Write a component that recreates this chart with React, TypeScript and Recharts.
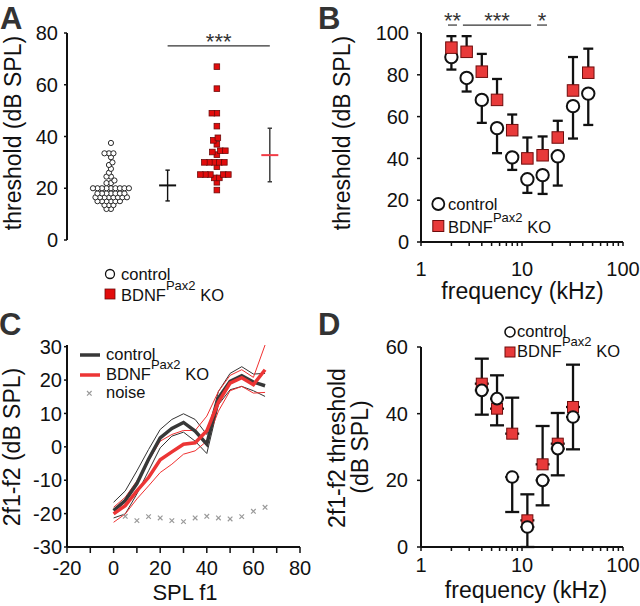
import React from "react";
import {
  ScatterChart, ComposedChart, Scatter, Line, XAxis, YAxis, ErrorBar, ReferenceLine,
} from "recharts";

const FONT = "'Liberation Sans', Arial, Helvetica, sans-serif";
const INK = "#111";
const LABEL_INK = "#333";
const RED = "#e83a3a";
const RED_A = "#e20c0c";
const RED_DARK = "#6e0c0c";

// ---------- A: individual ABR thresholds (dB SPL)
const A_CONTROL = [
  37.5, 33.5, 33.5, 33.5, 32, 30, 29, 27.5, 26, 24.5, 24.5, 23, 22, 22,
  20, 20, 20, 20, 20, 20, 20, 20, 20,
  18, 18, 18, 18, 18, 18, 18,
  16.5, 16.5, 16.5, 16.5, 16.5, 16.5, 16.5, 16.5,
  15, 15, 15, 15, 15, 15, 13.5, 13.5, 13.5, 12, 12,
];
const A_KO = [
  67, 58.5, 49, 49, 44, 39.5, 38.5, 37, 34.5, 34.5, 34, 33,
  30, 30, 30, 30, 30, 28.3, 25.3, 25.3, 25.3, 25.3, 25.3, 24, 24, 22.3, 19.3,
];
// mean, lower, upper
const A_CONTROL_STATS = [21.1, 15.1, 27];
const A_KO_STATS = [32.8, 22.5, 43.2];

// ---------- B: audiogram
const B_FREQ = [2, 2.83, 4, 5.66, 8, 11.3, 16, 22.6, 32, 45.3];
const B_CONTROL = [88.5, 78.5, 68, 54.5, 40.5, 30, 32, 41, 65, 71];
const B_CONTROL_LOW = [82.5, 72, 57, 42.5, 34.5, 23.5, 23, 27, 49.5, 56];
const B_KO = [93, 91, 81.5, 68, 53.5, 40, 41.5, 50, 72.5, 81];
const B_KO_HIGH = [98.5, 98.5, 90, 78, 61, 50, 50.5, 58, 88.5, 92.5];
const B_SIG = [
  { from: 1.85, to: 2.27, label: "**" },
  { from: 2.6, to: 12.3, label: "***" },
  { from: 14.1, to: 17.7, label: "*" },
];

// ---------- C: DPOAE growth
const C_SPL = [0, 5, 10, 15, 20, 25, 30, 35, 40, 45, 50, 55, 60, 65];
const C_CONTROL = [-19.1, -16.1, -11, -3.7, 2.7, 5.5, 7.3, 4.7, 0.8, 14.6, 19.6, 21.3, 19.4, 18.3];
const C_CONTROL_HI = [-16.6, -13.2, -7.2, -0.8, 5.2, 8.2, 9.9, 8.2, 3.7, 16.6, 22, 24, 21.8, 22];
const C_CONTROL_LO = [-21.3, -20.1, -14.1, -7.2, -0.3, 3.2, 4.4, 1.7, -2, 12.6, 17.1, 18.1, 16.8, 15.1];
const C_KO = [-20.1, -17.6, -13.2, -9.2, -3.9, -1.5, 0.8, 1.2, 4.8, 13.4, 19.1, 20.7, 18.6, 23.1];
const C_KO_HI = [-18.1, -15.1, -10.2, -4.2, 1.7, 3.7, 4.9, 4.9, 9.2, 16.6, 21.4, 23.1, 20.8, 30.5];
const C_KO_LO = [-22.6, -20.1, -15.6, -11.7, -7.7, -5.2, -2.2, -1.2, 1.7, 10.7, 16.8, 18.1, 16.1, 16.3];
const C_NOISE_SPL = [5, 10, 15, 20, 25, 30, 35, 40, 45, 50, 55, 60, 65];
const C_NOISE = [-20.8, -22.1, -20.9, -21.3, -22.1, -22.4, -21.3, -20.8, -21.3, -21.6, -20.9, -19.3, -18.1];

// ---------- D: DPOAE thresholds
const D_FREQ = [4, 5.66, 8, 11.3, 16, 22.6, 32];
const D_CONTROL = [47, 44.5, 21, 6, 20, 29.5, 39];
const D_CONTROL_LOW = [39.7, 36.5, 10.5, 0, 12.5, 21.5, 29.3];
const D_KO = [49, 41.5, 34, 8, 24.8, 31, 42];
const D_KO_HIGH = [56.5, 51.5, 44.8, 15.8, 36.3, 40.2, 54.7];

const LOG_TICKS = [1, 2, 3, 4, 5, 6, 7, 8, 9, 10, 20, 30, 40, 50, 60, 70, 80, 90, 100];
const logLabel = (v: number) => (v === 1 || v === 10 || v === 100 ? String(v) : "");

const AXIS = { stroke: INK, strokeWidth: 2 };
const TICK_LINE = { stroke: INK, strokeWidth: 1.5 };
const TICK = { fontSize: 20, fill: INK, fontFamily: FONT };

// simple beeswarm: spread equal-ish values sideways (pixel units -> data units)
function swarm(values: number[], center: number, pxPerX: number, pxPerY: number, minDist: number) {
  const placed: { v: number; dx: number }[] = [];
  return [...values].sort((a, b) => a - b).map((v) => {
    let dx = 0;
    for (let k = 0; k < 400; k++) {
      const cand = (k % 2 === 1 ? -1 : 1) * Math.ceil(k / 2) * 0.5;
      if (placed.every((p) => Math.hypot(p.dx - cand, (p.v - v) * pxPerY) >= minDist)) { dx = cand; break; }
    }
    placed.push({ v, dx });
    return { x: center + dx / pxPerX, y: v };
  });
}

const circleShape = (r: number, sw: number) => (p: any) => (
  <circle cx={p.cx} cy={p.cy} r={r} fill="#fff" stroke={INK} strokeWidth={sw} />
);
const squareShape = (s: number, fill: string, sw: number) => (p: any) => (
  <rect x={p.cx - s / 2} y={p.cy - s / 2} width={s} height={s} fill={fill} stroke={RED_DARK} strokeWidth={sw} />
);
const meanShape = (color: string) => (p: any) => (
  <line x1={p.cx - 8.5} x2={p.cx + 8.5} y1={p.cy} y2={p.cy} stroke={color} strokeWidth={2} />
);
const noShape = () => <g />;
const crossShape = (p: any) => (
  <path d={`M${p.cx - 2.3},${p.cy - 2.3}L${p.cx + 2.3},${p.cy + 2.3}M${p.cx - 2.3},${p.cy + 2.3}L${p.cx + 2.3},${p.cy - 2.3}`}
    stroke="#9a9a9a" strokeWidth={1.2} />
);

const starLabel = (value: string) => ({
  value, position: "top" as const, offset: -3, fontSize: 22, fill: LABEL_INK, fontFamily: FONT,
});

function PanelA() {
  const ctrl = swarm(A_CONTROL, 1, 53, 2.5875, 4.2);
  const ko = swarm(A_KO, 3, 53, 2.5875, 5);
  const [cm, cl, ch] = A_CONTROL_STATS;
  const [km, kl, kh] = A_KO_STATS;
  const ctrlSum = [{ x: 2.07, y: cm, err: [cm - cl, ch - cm] }];
  const koSum = [{ x: 4, y: km, err: [km - kl, kh - km] }];
  return (
    <ScatterChart width={320} height={260} margin={{ top: 33, right: 20, bottom: 20, left: 0 }}>
      <XAxis type="number" dataKey="x" domain={[0.17, 4.57]} height={0} tick={false} tickLine={false} axisLine={AXIS} />
      <YAxis type="number" dataKey="y" domain={[0, 80]} ticks={[0, 20, 40, 60, 80]} width={67}
        tick={TICK} tickSize={3} tickMargin={6} tickLine={TICK_LINE} axisLine={AXIS} />
      <ReferenceLine segment={[{ x: 2.07, y: 75 }, { x: 4, y: 75 }]} stroke={LABEL_INK} strokeWidth={1.2}
        ifOverflow="visible" label={starLabel("***")} />
      <Scatter data={ctrl} isAnimationActive={false} shape={circleShape(2.6, 0.9)} />
      <Scatter data={ko} isAnimationActive={false} shape={squareShape(5.6, RED_A, 0.8)} />
      <Scatter data={ctrlSum} isAnimationActive={false} shape={meanShape(INK)}>
        <ErrorBar dataKey="err" direction="y" width={2.2} stroke={INK} strokeWidth={1.4} />
      </Scatter>
      <Scatter data={koSum} isAnimationActive={false} shape={meanShape("#f23b46")}>
        <ErrorBar dataKey="err" direction="y" width={2.2} stroke="#333" strokeWidth={1.4} />
      </Scatter>
    </ScatterChart>
  );
}

function PanelB() {
  const ctrlErr = B_FREQ.map((f, i) => ({ f, y: B_CONTROL[i], err: [B_CONTROL[i] - B_CONTROL_LOW[i], 0] }));
  const koErr = B_FREQ.map((f, i) => ({ f, y: B_KO[i], err: [0, B_KO_HIGH[i] - B_KO[i]] }));
  const ctrl = B_FREQ.map((f, i) => ({ f, y: B_CONTROL[i] }));
  const ko = B_FREQ.map((f, i) => ({ f, y: B_KO[i] }));
  return (
    <ScatterChart width={320} height={300} margin={{ top: 33, right: 17, bottom: 0, left: 0 }}>
      <XAxis type="number" dataKey="f" scale="log" domain={[1, 100]} ticks={LOG_TICKS} interval={0}
        tickFormatter={logLabel} height={58} tick={TICK} tickSize={4} tickMargin={16} tickLine={TICK_LINE} axisLine={AXIS} />
      <YAxis type="number" dataKey="y" domain={[0, 100]} ticks={[0, 20, 40, 60, 80, 100]} width={101}
        tick={TICK} tickSize={4} tickMargin={8} tickLine={TICK_LINE} axisLine={AXIS} />
      {B_SIG.map((s) => (
        <ReferenceLine key={s.label} segment={[{ x: s.from, y: 103.8 }, { x: s.to, y: 103.8 }]}
          stroke={LABEL_INK} strokeWidth={1.2} ifOverflow="visible" label={starLabel(s.label)} />
      ))}
      <Scatter data={ctrlErr} isAnimationActive={false} shape={noShape}>
        <ErrorBar dataKey="err" direction="y" width={5} stroke={INK} strokeWidth={2.3} />
      </Scatter>
      <Scatter data={koErr} isAnimationActive={false} shape={noShape}>
        <ErrorBar dataKey="err" direction="y" width={5} stroke={INK} strokeWidth={2.3} />
      </Scatter>
      <Scatter data={ctrl} isAnimationActive={false} shape={circleShape(6.2, 2)} />
      <Scatter data={ko} isAnimationActive={false} shape={squareShape(11.5, RED, 1)} />
    </ScatterChart>
  );
}

function PanelC() {
  const data = C_SPL.map((x, i) => ({
    x, ctrl: C_CONTROL[i], ctrlHi: C_CONTROL_HI[i], ctrlLo: C_CONTROL_LO[i],
    ko: C_KO[i], koHi: C_KO_HI[i], koLo: C_KO_LO[i],
  }));
  const noise = C_NOISE_SPL.map((x, i) => ({ x, noise: C_NOISE[i] }));
  return (
    <ComposedChart width={320} height={306} data={data} margin={{ top: 45, right: 20, bottom: 0, left: 0 }}>
      <XAxis type="number" dataKey="x" domain={[-20, 80]} ticks={[-20, -10, 0, 10, 20, 30, 40, 50, 60, 70, 80]}
        interval={0} tickFormatter={(v: number) => (v % 20 === 0 ? String(v) : "")} height={59}
        tick={TICK} tickSize={6} tickMargin={8} tickLine={TICK_LINE} axisLine={AXIS} />
      <YAxis type="number" domain={[-30, 30]} ticks={[-30, -20, -10, 0, 10, 20, 30]} width={67}
        tick={TICK} tickSize={3} tickMargin={2} tickLine={TICK_LINE} axisLine={AXIS} />
      <Scatter data={noise} dataKey="noise" isAnimationActive={false} shape={crossShape} />
      <Line dataKey="ctrlHi" stroke="#333" strokeWidth={1} dot={false} isAnimationActive={false} />
      <Line dataKey="ctrlLo" stroke="#333" strokeWidth={1} dot={false} isAnimationActive={false} />
      <Line dataKey="koHi" stroke="#f03030" strokeWidth={1} dot={false} isAnimationActive={false} />
      <Line dataKey="koLo" stroke="#f03030" strokeWidth={1} dot={false} isAnimationActive={false} />
      <Line dataKey="ctrl" stroke="#383838" strokeWidth={3.5} dot={false} isAnimationActive={false} />
      <Line dataKey="ko" stroke="#ec3535" strokeWidth={3.5} dot={false} isAnimationActive={false} />
    </ComposedChart>
  );
}

function PanelD() {
  const ctrlErr = D_FREQ.map((f, i) => ({ f, y: D_CONTROL[i], err: [D_CONTROL[i] - D_CONTROL_LOW[i], 0] }));
  const koErr = D_FREQ.map((f, i) => ({ f, y: D_KO[i], err: [0, D_KO_HIGH[i] - D_KO[i]] }));
  const ctrl = D_FREQ.map((f, i) => ({ f, y: D_CONTROL[i] }));
  const ko = D_FREQ.map((f, i) => ({ f, y: D_KO[i] }));
  return (
    <ScatterChart width={320} height={306} margin={{ top: 47, right: 17, bottom: 0, left: 0 }}>
      <XAxis type="number" dataKey="f" scale="log" domain={[1, 100]} ticks={LOG_TICKS} interval={0}
        tickFormatter={logLabel} height={59} tick={TICK} tickSize={4} tickMargin={7} tickLine={TICK_LINE} axisLine={AXIS} />
      <YAxis type="number" dataKey="y" domain={[0, 60]} ticks={[0, 20, 40, 60]} width={101}
        tick={TICK} tickSize={4} tickMargin={9} tickLine={TICK_LINE} axisLine={AXIS} />
      <Scatter data={ctrlErr} isAnimationActive={false} shape={noShape}>
        <ErrorBar dataKey="err" direction="y" width={7} stroke={INK} strokeWidth={2.3} />
      </Scatter>
      <Scatter data={koErr} isAnimationActive={false} shape={noShape}>
        <ErrorBar dataKey="err" direction="y" width={7} stroke={INK} strokeWidth={2.3} />
      </Scatter>
      <Scatter data={ko} isAnimationActive={false} shape={squareShape(11, RED, 1)} />
      <Scatter data={ctrl} isAnimationActive={false} shape={circleShape(5.8, 2)} />
    </ScatterChart>
  );
}

function KoLabel({ x, y, size = 16.5 }: { x: number; y: number; size?: number }) {
  return (
    <text x={x} y={y} fontSize={size} fill={INK}>
      BDNF<tspan dy={-11.5} fontSize={13}>Pax2</tspan><tspan dy={11.5}> KO</tspan>
    </text>
  );
}

function Overlay() {
  const title = { fontSize: 23, fill: INK, textAnchor: "middle" as const };
  const letter = { fontSize: 31, fontWeight: 700, fill: LABEL_INK };
  return (
    <svg width={640} height={606} style={{ position: "absolute", left: 0, top: 0, pointerEvents: "none" }}
      fontFamily={FONT}>
      <text x={0} y={28.5} {...letter}>A</text>
      <text x={318} y={28.5} {...letter}>B</text>
      <text x={-1} y={335} {...letter}>C</text>
      <text x={318} y={335} {...letter}>D</text>

      <text transform="translate(20.5,133) rotate(-90)" {...title}>threshold (dB SPL)</text>
      <text transform="translate(350,133) rotate(-90)" {...title}>threshold (dB SPL)</text>
      <text transform="translate(20,447) rotate(-90)" {...title}>2f1-f2 (dB SPL)</text>
      <text transform="translate(345,448) rotate(-90)" {...title}>2f1-f2 threshold</text>
      <text transform="translate(368,447) rotate(-90)" {...title}>(dB SPL)</text>
      <text x={522.5} y={299} {...title}>frequency (kHz)</text>
      <text x={185} y={600} {...title} fontSize={22}>SPL f1</text>
      <text x={526} y={598} {...title}>frequency (kHz)</text>

      {/* legend A */}
      <circle cx={110} cy={274} r={4.5} fill="#fff" stroke={INK} strokeWidth={1.3} />
      <text x={121} y={280} fontSize={16.5} fill={INK}>control</text>
      <rect x={105} y={289} width={10} height={10} fill={RED_A} stroke={RED_DARK} strokeWidth={0.8} />
      <KoLabel x={121} y={301} />

      {/* legend B */}
      <circle cx={438.3} cy={204} r={6} fill="#fff" stroke={INK} strokeWidth={1.8} />
      <text x={448} y={210} fontSize={16.5} fill={INK}>control</text>
      <rect x={432.8} y={220.5} width={11} height={11} fill={RED} stroke={RED_DARK} strokeWidth={1} />
      <KoLabel x={448} y={233} />

      {/* legend C */}
      <line x1={80} x2={100} y1={355} y2={355} stroke="#383838" strokeWidth={3.5} />
      <text x={106} y={360} fontSize={16.5} fill={INK}>control</text>
      <line x1={80} x2={100} y1={375} y2={375} stroke="#ec3535" strokeWidth={3.5} />
      <KoLabel x={106} y={380} />
      <path d="M87,391L91.6,395.6M87,395.6L91.6,391" stroke="#9a9a9a" strokeWidth={1.2} />
      <text x={106} y={398} fontSize={16.5} fill={INK}>noise</text>

      {/* legend D */}
      <circle cx={510} cy={332} r={5} fill="#fff" stroke={INK} strokeWidth={1.6} />
      <text x={517} y={337} fontSize={16.5} fill={INK}>control</text>
      <rect x={505} y={347} width={10} height={10} fill={RED} stroke={RED_DARK} strokeWidth={1} />
      <KoLabel x={517} y={357} />
    </svg>
  );
}

export default function App() {
  const box = (left: number, top: number): React.CSSProperties => ({ position: "absolute", left, top });
  return (
    <div style={{ position: "absolute", left: 0, top: 0, width: 640, height: 606, background: "#fff", fontFamily: FONT }}>
      <div style={box(0, 0)}><PanelA /></div>
      <div style={box(320, 0)}><PanelB /></div>
      <div style={box(0, 300)}><PanelC /></div>
      <div style={box(320, 300)}><PanelD /></div>
      <Overlay />
    </div>
  );
}
